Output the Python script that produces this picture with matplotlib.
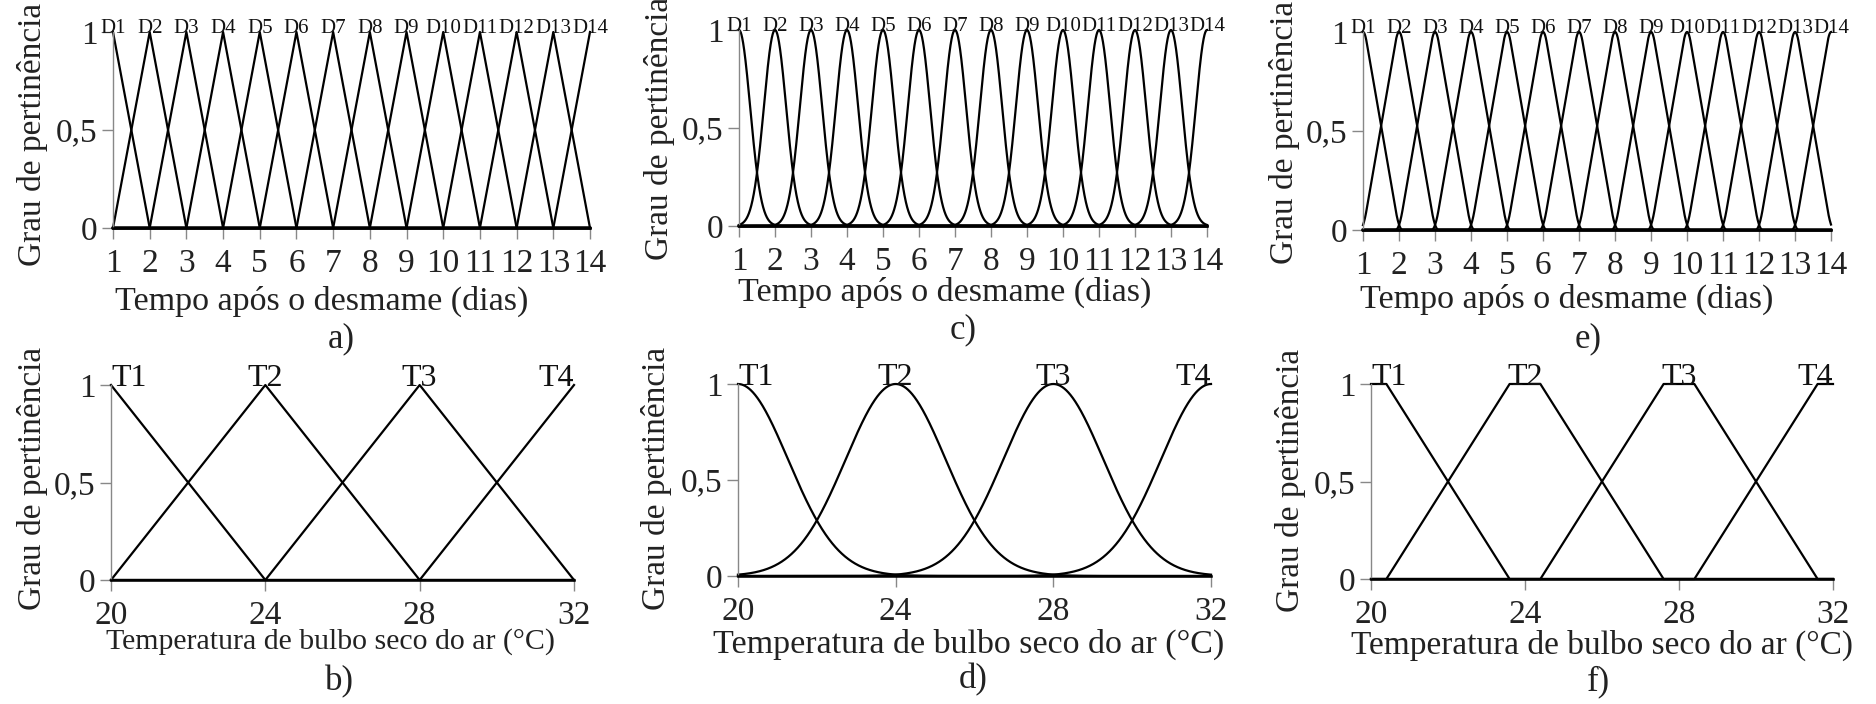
import numpy as np
import matplotlib
matplotlib.use('Agg')
import matplotlib.pyplot as plt

plt.rcParams['font.family'] = ['Liberation Serif', 'DejaVu Serif']

# membership function parameters
day_centers = [1, 2, 3, 4, 5, 6, 7, 8, 9, 10, 11, 12, 13, 14]
day_labels = ['D1', 'D2', 'D3', 'D4', 'D5', 'D6', 'D7', 'D8', 'D9', 'D10',
              'D11', 'D12', 'D13', 'D14']
day_tri_half = 1.0        # a) triangular
day_gauss_sigma = 0.31    # c) gaussian
day_round_width = 0.2     # e) triangle with rounded corners

temp_centers = [20, 24, 28, 32]
temp_labels = ['T1', 'T2', 'T3', 'T4']
temp_tri_half = 4.0       # b) triangular
temp_gauss_sigma = 1.27   # d) gaussian
# f) trapezoidal (a, b, c, d)
temp_trap = [[20.0, 20.0, 20.4, 23.6],
             [20.4, 23.6, 24.4, 27.6],
             [24.4, 27.6, 28.4, 31.6],
             [28.4, 31.6, 32.0, 32.0]]

day_ticks = day_centers
temp_ticks = [20, 24, 28, 32]
y_ticks = [0, 0.5, 1]
y_ticklabels = ['0', '0,5', '1']

xlabel_days = 'Tempo após o desmame (dias)'
xlabel_temp = 'Temperatura de bulbo seco do ar (°C)'
ylabel = 'Grau de pertinência'

W, H = 1876, 704
fig = plt.figure(figsize=(W / 100, H / 100), dpi=100)


def px_axes(x0, x1, y0, y1):
    # x0/x1: pixel x of axis start/end, y0: pixel y of value 0, y1: pixel y of value 1
    return fig.add_axes([x0 / W, 1 - y0 / H, (x1 - x0) / W, (y0 - y1) / H])


def ftext(x, y, s, **kw):
    fig.text(x / W, 1 - y / H, s, ha='center', va='center', **kw)


def tri(x, c, half):
    return np.clip(1 - np.abs(x - c) / half, 0, 1)


def gauss(x, c, s):
    return np.exp(-(x - c) ** 2 / (2 * s ** 2))


def trap(x, p):
    a, b, c, d = p
    up = np.ones_like(x) if b == a else (x - a) / (b - a)
    down = np.ones_like(x) if d == c else (d - x) / (d - c)
    return np.clip(np.minimum(up, down), 0, 1)


def rounded_tri(x, c, half, w):
    dx = x[1] - x[0]
    k = np.ones(int(round(w / dx)))
    k /= k.sum()
    y = np.convolve(tri(x, c, half), k, mode='same')
    return y / y.max()


def style(ax, xlim, xticks, tick_fs=24):
    ax.set_xlim(*xlim)
    ax.set_ylim(0, 1)
    for s in ['top', 'right']:
        ax.spines[s].set_visible(False)
    ax.spines['left'].set_color('#888888')
    ax.spines['left'].set_linewidth(1.0)
    ax.spines['bottom'].set_color('black')
    ax.spines['bottom'].set_linewidth(1.8)
    ax.set_xticks(xticks)
    ax.set_xticklabels([str(t) for t in xticks])
    ax.set_yticks(y_ticks)
    ax.set_yticklabels(y_ticklabels)
    ax.tick_params(axis='both', direction='out', length=8, width=1,
                   color='#888888', labelsize=tick_fs, labelcolor='#222222')
    ax.tick_params(axis='x', pad=7)
    ax.tick_params(axis='y', pad=3)
    ax.set_facecolor('none')


lw = 1.6
xd = np.linspace(1, 14, 2601)
xt = np.linspace(20, 32, 2401)
xd_ext = np.linspace(0, 15, 3001)
xd_mask = (xd_ext >= 1) & (xd_ext <= 14)

# ---- top row: days ----
top = {
    'a': (113, 590, 228, 32),
    'c': (739, 1207, 226, 30),
    'e': (1363, 1831, 230, 32),
}
for key, box in top.items():
    ax = px_axes(*box)
    style(ax, (1, 14), day_ticks)
    for c, lab in zip(day_centers, day_labels):
        if key == 'a':
            ax.plot(xd, tri(xd, c, day_tri_half), color='black', lw=lw, clip_on=False)
        elif key == 'c':
            ax.plot(xd, gauss(xd, c, day_gauss_sigma), color='black', lw=lw, clip_on=False)
        else:
            yy = rounded_tri(xd_ext, c, day_tri_half, day_round_width)
            ax.plot(xd_ext[xd_mask], yy[xd_mask], color='black', lw=lw, clip_on=False)
        ax.text(c, 0.97, lab, ha='center', va='bottom', fontsize=15,
                color='#111111')

# ---- bottom row: temperature ----
bottom = {
    'b': (111, 574, 580, 385),
    'd': (738, 1211, 576, 384),
    'f': (1371, 1833, 579, 384),
}
for key, box in bottom.items():
    ax = px_axes(*box)
    style(ax, (20, 32), temp_ticks)
    for i, (c, lab) in enumerate(zip(temp_centers, temp_labels)):
        if key == 'b':
            ax.plot(xt, tri(xt, c, temp_tri_half), color='black', lw=lw, clip_on=False)
        elif key == 'd':
            ax.plot(xt, gauss(xt, c, temp_gauss_sigma), color='black', lw=lw, clip_on=False)
        else:
            ax.plot(xt, trap(xt, temp_trap[i]), color='black', lw=lw, clip_on=False)
        ha = 'left' if i == 0 else ('right' if i == len(temp_centers) - 1 else 'center')
        ax.text(c, 0.96, lab, ha=ha, va='bottom', fontsize=23, color='#111111')

# ---- axis titles and panel letters ----
tc = '#222222'
ftext(322, 301, xlabel_days, fontsize=24.5, color=tc)
ftext(945, 292, xlabel_days, fontsize=24.5, color=tc)
ftext(1567, 299, xlabel_days, fontsize=24.5, color=tc)
ftext(330, 642, xlabel_temp, fontsize=21.5, color=tc)
ftext(969, 644, xlabel_temp, fontsize=24.5, color=tc)
ftext(1602, 645, xlabel_temp, fontsize=24, color=tc)

for x, y in [(33, 134), (659, 128), (1285, 132), (33, 478), (656, 478), (1290, 480)]:
    ftext(x, y, ylabel, fontsize=24, rotation=90, color=tc)

for x, y, s in [(341, 339, 'a)'), (963, 330, 'c)'), (1588, 339, 'e)'),
                (339, 682, 'b)'), (973, 680, 'd)'), (1598, 682, 'f)')]:
    ftext(x, y, s, fontsize=25, color=tc)

fig.savefig('out.png', dpi=100, facecolor='white')
